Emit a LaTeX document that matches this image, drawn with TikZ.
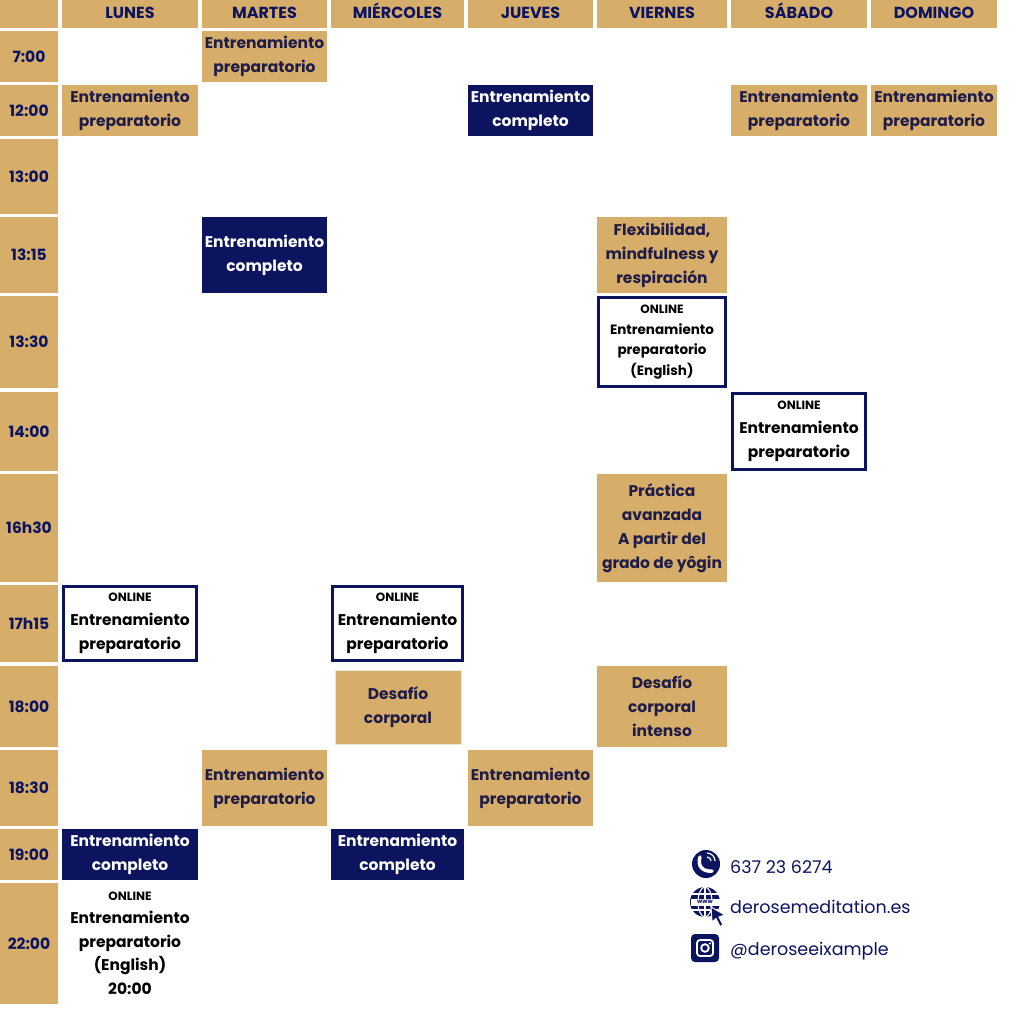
\documentclass[tikz,border=0pt]{standalone}
\usepackage{fontspec}
\setmainfont{Poppins}
\usetikzlibrary{positioning}
\definecolor{gold}{RGB}{214,174,106}
\definecolor{navy}{RGB}{12,20,96}
\definecolor{ink}{RGB}{32,28,72}
\newcommand{\onlinetag}{{\fontsize{12}{14}\selectfont ONLINE}}
\tikzset{
  cell/.style={inner sep=0pt, align=center, font=\fontsize{15.5}{24}\selectfont\bfseries},
  gold/.style={cell, fill=gold, text=ink},
  navy/.style={cell, fill=navy, text=white},
  online/.style={cell, draw=navy, line width=3pt, fill=white, text=black},
  hour/.style={gold, font=\fontsize{15.5}{20}\selectfont\bfseries, minimum width=58, text=navy},
  day/.style={gold, font=\fontsize{16}{20}\selectfont\bfseries, minimum height=28, text height=11.5pt, text depth=3pt, text=navy},
  contact/.style={anchor=west, inner sep=0pt, text=navy, font=\fontsize{17.5}{20}\selectfont}
}

\begin{document}
\begin{tikzpicture}[x=1pt, y=-1pt]
        \useasboundingbox[fill=white] (0,0) rectangle (1024,1012);

        % cabecera
        \node[day, minimum width=58] (corner) at (29, 14) {};
        \node[day, minimum width=136] (lun) at (130, 14) {LUNES};
        \node[day, minimum width=125] (mar) at (264.5, 14) {MARTES};
        \node[day, minimum width=133] (mie) at (397.5, 14) {MIÉRCOLES};
        \node[day, minimum width=125] (jue) at (530.5, 14) {JUEVES};
        \node[day, minimum width=130] (vie) at (662, 14) {VIERNES};
        \node[day, minimum width=136] (sab) at (799, 14) {SÁBADO};
        \node[day, minimum width=126] (dom) at (934, 14) {DOMINGO};

        % horas
        \node[hour, minimum height=51] (t700) at (29, 56.5) {7:00};
        \node[hour, minimum height=51] (t1200) at (29, 110.5) {12:00};
        \node[hour, minimum height=75] (t1300) at (29, 176.5) {13:00};
        \node[hour, minimum height=76] (t1315) at (29, 255) {13:15};
        \node[hour, minimum height=92] (t1330) at (29, 342) {13:30};
        \node[hour, minimum height=79] (t1400) at (29, 431.5) {14:00};
        \node[hour, minimum height=108] (t1630) at (29, 528) {16h30};
        \node[hour, minimum height=77] (t1715) at (29, 623.5) {17h15};
        \node[hour, minimum height=81] (t1800) at (29, 706.5) {18:00};
        \node[hour, minimum height=76] (t1830) at (29, 788) {18:30};
        \node[hour, minimum height=51] (t1900) at (29, 854.5) {19:00};
        \node[hour, minimum height=121] (t2200) at (29, 943.5) {22:00};

        % clases
        \node[gold, minimum width=125, minimum height=51] (mar700) at (264.5, 56.5) {Entrenamiento\\preparatorio};
        \node[gold, minimum width=136, minimum height=51] (lun1200) at (130, 110.5) {Entrenamiento\\preparatorio};
        \node[navy, minimum width=125, minimum height=51] (jue1200) at (530.5, 110.5) {Entrenamiento\\completo};
        \node[gold, minimum width=136, minimum height=51] (sab1200) at (799, 110.5) {Entrenamiento\\preparatorio};
        \node[gold, minimum width=126, minimum height=51] (dom1200) at (934, 110.5) {Entrenamiento\\preparatorio};
        \node[navy, minimum width=125, minimum height=76] (mar1315) at (264.5, 255) {Entrenamiento\\completo};
        \node[gold, minimum width=130, minimum height=76] (vie1315) at (662, 255) {Flexibilidad,\\mindfulness y\\respiración};
        \node[online, minimum width=127, minimum height=89, font=\fontsize{13.5}{20.5}\selectfont\bfseries] (vie1330) at (662, 342) {\onlinetag\\Entrenamiento\\preparatorio\\(English)};
        \node[online, minimum width=133, minimum height=76] (sab1400) at (799, 431.5) {\onlinetag\\Entrenamiento\\preparatorio};
        \node[gold, minimum width=130, minimum height=108] (vie1630) at (662, 528) {Práctica\\avanzada\\A partir del\\grado de yôgin};
        \node[online, minimum width=133, minimum height=74] (lun1715) at (130, 623.5) {\onlinetag\\Entrenamiento\\preparatorio};
        \node[online, minimum width=130, minimum height=74] (mie1715) at (397.5, 623.5) {\onlinetag\\Entrenamiento\\preparatorio};
        \node[gold, draw={rgb,255:red,240;green,232;blue,214}, line width=1pt, minimum width=126, minimum height=74] (mie1800) at (398, 707) {Desafío\\corporal};
        \node[gold, minimum width=130, minimum height=81] (vie1800) at (662, 706.5) {Desafío\\corporal\\intenso};
        \node[gold, minimum width=125, minimum height=76] (mar1830) at (264.5, 788) {Entrenamiento\\preparatorio};
        \node[gold, minimum width=125, minimum height=76] (jue1830) at (530.5, 788) {Entrenamiento\\preparatorio};
        \node[navy, minimum width=136, minimum height=51] (lun1900) at (130, 854.5) {Entrenamiento\\completo};
        \node[navy, minimum width=133, minimum height=51] (mie1900) at (397.5, 854.5) {Entrenamiento\\completo};
        \node[cell, text=black, font=\fontsize{15.5}{23.5}\selectfont\bfseries] (lun2200) at (130, 943) {\onlinetag\\Entrenamiento\\preparatorio\\(English)\\20:00};

        % contacto
        \fill[navy] (706, 864) circle (14pt);
        \draw[white, line width=3.5pt, line cap=round] (700, 857) .. controls (697, 866) and (703, 872) .. (712, 871);
        \draw[white, line width=1.2pt] (707, 857) arc (90:0:4pt);
        \draw[white, line width=1.2pt] (707, 853) arc (90:0:8pt);
        \node[contact] (tel) at (730, 867) {637 23 6274};

        \fill[navy] (705, 902) circle (15pt);
        \draw[white, line width=1.1pt] (705, 902) ellipse (7pt and 15pt);
        \draw[white, line width=1.1pt] (705, 887) -- (705, 917);
        \draw[white, line width=1.1pt] (692, 894) -- (718, 894);
        \draw[white, line width=1.1pt] (692, 910) -- (718, 910);
        \fill[white] (690.5, 898.5) rectangle (719.5, 905.5);
        \node[inner sep=0pt, text=navy, font=\fontsize{6}{6}\selectfont\bfseries] (www) at (705, 902) {www};
        \filldraw[navy, draw=white, line width=1pt] (711, 907) -- (725, 915) -- (719, 917) -- (723, 925) -- (720, 926.5) -- (716, 918.5) -- (712, 922) -- cycle;
        \node[contact] (web) at (730, 907) {derosemeditation.es};

        \fill[navy, rounded corners=4pt] (691, 934) rectangle (719, 962);
        \draw[white, line width=1.8pt, rounded corners=3pt] (697, 940) rectangle (713, 956);
        \draw[white, line width=1.8pt] (705, 948) circle (3.8pt);
        \fill[white] (710, 943.5) circle (1.1pt);
        \node[contact] (insta) at (730, 951) {@deroseeixample};
    \end{tikzpicture}
\end{document}
